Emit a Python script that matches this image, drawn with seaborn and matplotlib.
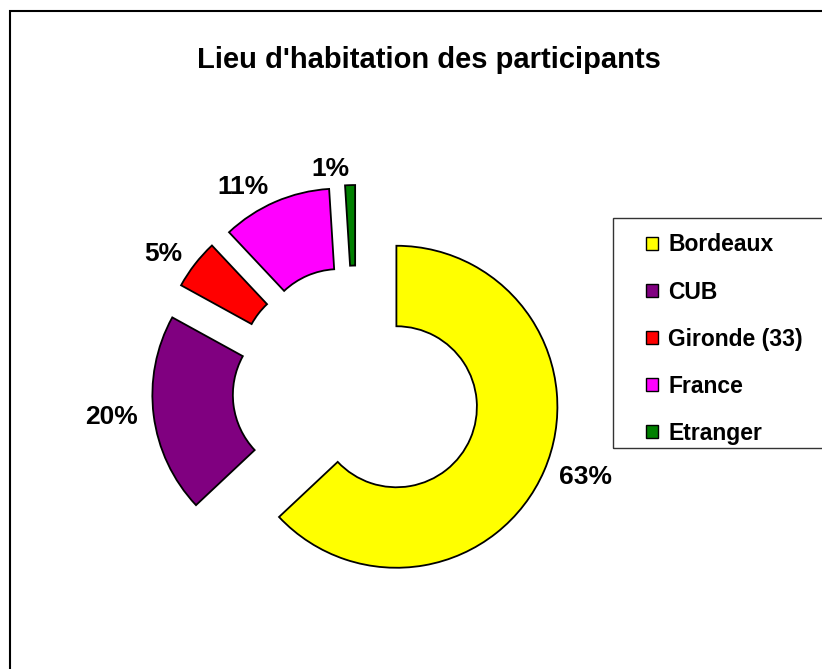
import matplotlib
matplotlib.use("Agg")
import matplotlib.pyplot as plt
from matplotlib.patches import Patch, Rectangle
import seaborn as sns

# ---- data ----
places = ["Bordeaux", "CUB", "Gironde (33)", "France", "Etranger"]
shares = [63, 20, 5, 11, 1]
colors = ["#FFFF00", "#800080", "#FF0000", "#FF00FF", "#008000"]
title = "Lieu d'habitation des participants"

sns.set_theme(style="white")
plt.rcParams["font.family"] = ["Liberation Sans", "DejaVu Sans"]
plt.rcParams["text.color"] = "black"

W, H = 822, 669
fig = plt.figure(figsize=(W / 100, H / 100), dpi=100)
fig.patch.set_facecolor("white")

# pie centre / radius in pixels
cx, cy, unit = 356.5, 389.5, 161.0
ax = fig.add_axes([0, 0, 1, 1])
ax.pie(
    shares,
    labels=[f"{v}%" for v in shares],
    colors=colors,
    startangle=90,
    counterclock=False,
    explode=[0.27] * len(shares),
    labeldistance=1.1,
    wedgeprops=dict(width=0.5, edgecolor="black", linewidth=1.3),
    textprops=dict(fontsize=19, fontweight="bold", color="black"),
)
ax.set_aspect("auto")
ax.set_xlim(-cx / unit, (W - cx) / unit)
ax.set_ylim(-(H - cy) / unit, cy / unit)
ax.axis("off")

fig.text(429 / W, 1 - 67.7 / H, title, ha="center", va="baseline",
         fontsize=21, fontweight="bold", color="black")

# chart frame and legend box
fig.patches.append(Rectangle((9.5 / W, -0.05), 1.1, 1 - 11 / H + 0.05,
                             transform=fig.transFigure, fill=False,
                             edgecolor="black", linewidth=1.5))
fig.patches.append(Rectangle((613 / W, 1 - 448 / H), 0.4, 230 / H,
                             transform=fig.transFigure, fill=False,
                             edgecolor="#333333", linewidth=1.0))

handles = [Patch(facecolor=c, edgecolor="black", linewidth=1.0) for c in colors]
fig.legend(
    handles, places,
    loc="upper left",
    bbox_to_anchor=(634.6 / W, 1 - 222 / H),
    frameon=False,
    prop=dict(size=16.5, weight="bold"),
    labelcolor="black",
    handlelength=0.52, handleheight=0.52,
    handletextpad=0.45,
    labelspacing=1.05,
    borderpad=0.5,
    borderaxespad=0,
)

fig.savefig("out.png", dpi=100, facecolor="white")
